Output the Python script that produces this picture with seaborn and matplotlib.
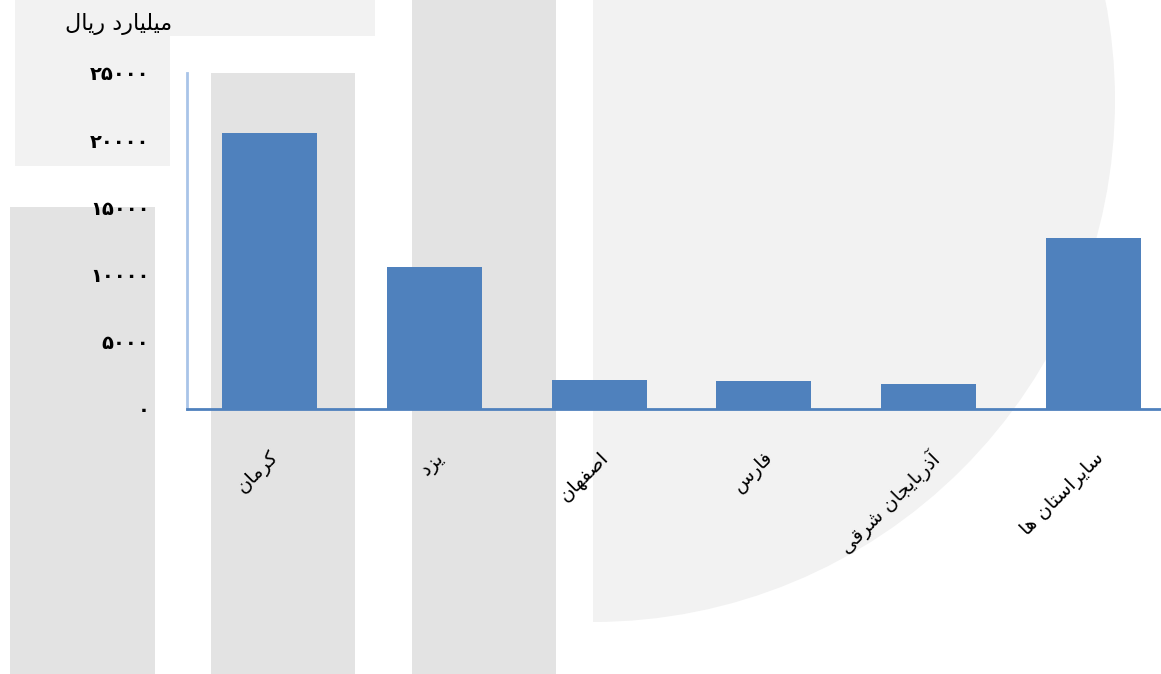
import matplotlib
matplotlib.use("Agg")
import matplotlib.pyplot as plt
import matplotlib.patches as mpatches
import seaborn as sns
import pandas as pd

# ---------------------------
# DATA
# ---------------------------
provinces = ["کرمان", "یزد", "اصفهان", "فارس", "آذربایجان شرقی", "سایراستان ها"]
values = [20550, 10530, 2150, 2080, 1850, 12690]
y_ticks = [0, 5000, 10000, 15000, 20000, 25000]
y_unit = "میلیارد ریال"

BAR_COLOR = "#4f81bd"

# ---------------------------
# MINIMAL PERSIAN SHAPING (matplotlib has no bidi / shaping)
# (isolated, final, initial, medial)
# ---------------------------
FORMS = {
    "ا": ("\uFE8D", "\uFE8E", None, None),
    "آ": ("\uFE81", "\uFE82", None, None),
    "ب": ("\uFE8F", "\uFE90", "\uFE91", "\uFE92"),
    "ت": ("\uFE95", "\uFE96", "\uFE97", "\uFE98"),
    "ج": ("\uFE9D", "\uFE9E", "\uFE9F", "\uFEA0"),
    "د": ("\uFEA9", "\uFEAA", None, None),
    "ذ": ("\uFEAB", "\uFEAC", None, None),
    "ر": ("\uFEAD", "\uFEAE", None, None),
    "ز": ("\uFEAF", "\uFEB0", None, None),
    "س": ("\uFEB1", "\uFEB2", "\uFEB3", "\uFEB4"),
    "ش": ("\uFEB5", "\uFEB6", "\uFEB7", "\uFEB8"),
    "ص": ("\uFEB9", "\uFEBA", "\uFEBB", "\uFEBC"),
    "ف": ("\uFED1", "\uFED2", "\uFED3", "\uFED4"),
    "ق": ("\uFED5", "\uFED6", "\uFED7", "\uFED8"),
    "ل": ("\uFEDD", "\uFEDE", "\uFEDF", "\uFEE0"),
    "م": ("\uFEE1", "\uFEE2", "\uFEE3", "\uFEE4"),
    "ن": ("\uFEE5", "\uFEE6", "\uFEE7", "\uFEE8"),
    "ه": ("\uFEE9", "\uFEEA", "\uFEEB", "\uFEEC"),
    "ک": ("\uFB8E", "\uFB8F", "\uFB90", "\uFB91"),
    "ی": ("\uFBFC", "\uFBFD", "\uFBFE", "\uFBFF"),
}


def joins_next(ch):
    return ch in FORMS and FORMS[ch][2] is not None


def shape_fa(text):
    out = []
    for i, ch in enumerate(text):
        if ch not in FORMS:
            out.append(ch)
            continue
        prev = text[i - 1] if i > 0 else ""
        nxt = text[i + 1] if i + 1 < len(text) else ""
        to_prev = joins_next(prev)
        to_next = joins_next(ch) and nxt in FORMS
        iso, fin, ini, med = FORMS[ch]
        if to_prev and to_next:
            out.append(med)
        elif to_prev:
            out.append(fin)
        elif to_next:
            out.append(ini)
        else:
            out.append(iso)
    return "".join(out)[::-1]


def fa_digits(n):
    return str(n).translate(str.maketrans("0123456789", "۰۱۲۳۴۵۶۷۸۹"))


df = pd.DataFrame({"province": [shape_fa(p) for p in provinces], "value": values})

# ---------------------------
# FIGURE
# ---------------------------
sns.set_style("white")
plt.rcParams["font.family"] = ["DejaVu Sans"]
plt.rcParams["text.color"] = "black"
plt.rcParams["xtick.color"] = "black"
plt.rcParams["ytick.color"] = "black"

W, H = 1161, 674
fig = plt.figure(figsize=(W / 100, H / 100), dpi=100, facecolor="white")

# faint watermark behind the chart
bg = fig.add_axes([0, 0, 1, 1], zorder=-1)
bg.set_xlim(0, W)
bg.set_ylim(H, 0)
bg.axis("off")
for (x0, y0, w, h, c) in [
    (15, 0, 360, 36, "#f2f2f2"),
    (15, 36, 155, 130, "#f2f2f2"),
    (10, 207, 145, 467, "#e3e3e3"),
    (211, 73, 144, 601, "#e3e3e3"),
    (412, 0, 144, 674, "#e3e3e3"),
]:
    bg.add_patch(mpatches.Rectangle((x0, y0), w, h, color=c, lw=0))
clip = mpatches.Rectangle((593, 0), 600, 674, transform=bg.transData)
disc = mpatches.Circle((593, 100), 522, color="#f2f2f2", lw=0)
bg.add_patch(disc)
disc.set_clip_path(clip)

ax = fig.add_axes([187 / W, (H - 409) / H, 989 / W, 336 / H])
ax.set_facecolor("none")

sns.barplot(data=df, x="province", y="value", color=BAR_COLOR, saturation=1,
            width=0.576, edgecolor="none", linewidth=0, ax=ax)

ax.set_xlim(-0.5, 5.5)
ax.set_ylim(0, 25000)
ax.set_yticks(y_ticks)
ax.set_yticklabels([fa_digits(t) for t in y_ticks], fontsize=14, fontweight="bold")
ax.set_xticklabels(df["province"], rotation=45, ha="right", rotation_mode="anchor",
                   fontsize=14)
ax.tick_params(axis="y", length=0, pad=27)
ax.tick_params(axis="x", length=0, pad=28)
ax.set_xlabel("")
ax.set_ylabel("")

for s in ["top", "right"]:
    ax.spines[s].set_visible(False)
ax.spines["left"].set_color("#a9c4e8")
ax.spines["left"].set_linewidth(2)
ax.spines["bottom"].set_color(BAR_COLOR)
ax.spines["bottom"].set_linewidth(2)

fig.text(172 / W, 1 - 24 / H, shape_fa(y_unit), ha="right", va="center", fontsize=16)

fig.savefig("out.png", dpi=100)
